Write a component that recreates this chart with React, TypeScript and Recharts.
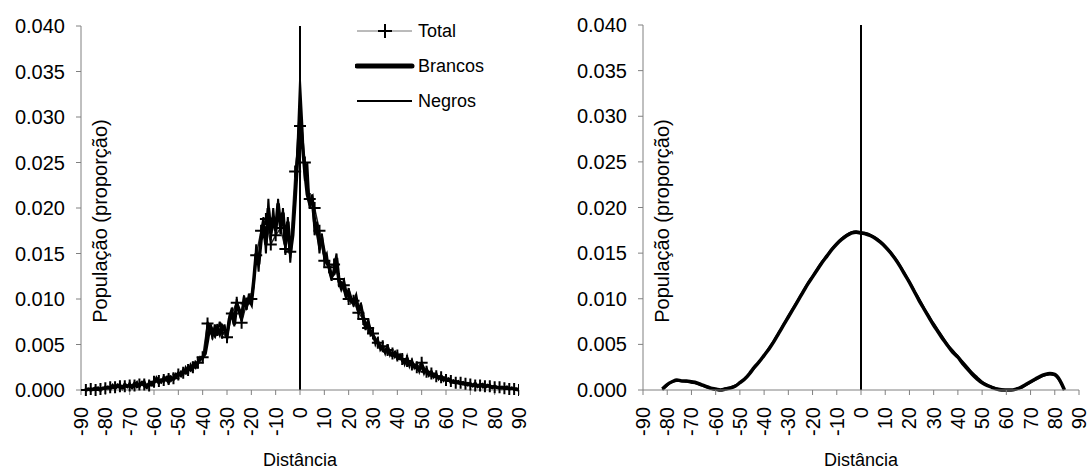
import React from 'react';
import { LineChart, Line, XAxis, YAxis, ReferenceLine, Legend, Label } from 'recharts';

const FONT = 'Liberation Sans, Arial, Helvetica, sans-serif';

const xTicks = [-90, -80, -70, -60, -50, -40, -30, -20, -10, 0, 10, 20, 30, 40, 50, 60, 70, 80, 90];
const yTicks = [0, 0.005, 0.01, 0.015, 0.02, 0.025, 0.03, 0.035, 0.04];
const legendOrder = ['total', 'brancos', 'negros'];

// left panel: observed distribution, one value per degree from -88 to 90 (units of 1/10000)
const rawStart = -88;
const rawBrancos = [
  0, 1, 0, 1, 2, 1, 0, 2,
  2, 3, 1, 4, 2, 5, 3, 2, 6, 4,
  5, 3, 7, 4, 6, 8, 5, 3, 7, 6,
  9, 12, 8, 11, 10, 13, 9, 14, 12, 15,
  18, 16, 21, 19, 24, 22, 27, 25, 30, 34,
  36, 40, 55, 72, 64, 60, 68, 62, 70, 66,
  60, 78, 85, 72, 95, 88, 80, 98, 92, 100,
  95, 120, 150, 138, 165, 180, 160, 200, 172, 190,
  175, 205, 180, 195, 160, 185, 150, 170, 210, 255,
  300, 270, 240, 215, 205, 210, 185, 175, 160, 165,
  150, 140, 135, 125, 128, 145, 120, 112, 118, 105,
  108, 100, 95, 102, 88, 92, 80, 70, 74, 64,
  60, 55, 52, 48, 45, 42, 46, 40, 38, 41,
  36, 38, 33, 30, 34, 28, 30, 26, 24, 22,
  28, 20, 22, 17, 19, 15, 16, 13, 15, 12,
  11, 12, 9, 10, 8, 9, 7, 8, 6, 7,
  6, 5, 7, 4, 5, 6, 3, 5, 4, 3,
  4, 3, 2, 3, 2, 3, 1, 2, 1, 1, 0,
];
const rawNegros = [
  0, 0, 2, 0, 1, 3, 0, 1,
  4, 1, 3, 6, 2, 4, 7, 1, 5, 3,
  8, 2, 6, 9, 3, 7, 10, 4, 6, 8,
  6, 14, 10, 8, 15, 11, 16, 10, 13, 18,
  15, 20, 17, 25, 20, 28, 23, 31, 28, 36,
  33, 45, 75, 66, 58, 72, 60, 75, 64, 72,
  56, 82, 90, 70, 100, 84, 76, 104, 88, 106,
  98, 115, 160, 130, 175, 190, 150, 210, 165, 200,
  170, 210, 172, 200, 150, 190, 140, 175, 210, 270,
  340, 290, 230, 250, 200, 215, 170, 185, 150, 172,
  145, 150, 130, 120, 135, 150, 115, 118, 110, 100,
  112, 96, 100, 98, 84, 96, 76, 66, 78, 60,
  62, 50, 56, 44, 48, 40, 50, 38, 42, 36,
  40, 34, 36, 28, 37, 26, 33, 24, 28, 20,
  30, 18, 24, 16, 21, 14, 18, 12, 16, 10,
  13, 10, 11, 8, 10, 7, 9, 6, 8, 5,
  8, 4, 6, 5, 7, 3, 5, 4, 6, 2,
  5, 2, 4, 1, 3, 2, 2, 1, 2, 0, 1,
];
// total: every 2 degrees from -88 to 90
const rawTotal = [
  0, 1, 0, 1,
  2, 3, 3, 4, 4,
  5, 5, 6, 6, 5,
  9, 10, 11, 12, 13,
  17, 19, 22, 25, 30,
  36, 73, 62, 66, 63,
  58, 84, 96, 74, 95,
  100, 148, 175, 188, 160,
  170, 178, 155, 152, 240,
  290, 250, 210, 200, 175,
  142, 135, 138, 122, 115,
  100, 98, 85, 78, 68,
  62, 52, 48, 44, 40,
  38, 34, 32, 28, 25,
  30, 20, 18, 15, 14,
  11, 10, 8, 8, 7,
  6, 5, 5, 4, 4,
  3, 3, 2, 1, 1,
  0,
];

// right panel: smoothed distribution, every 2 degrees from -82 to 84 (units of 1/10000)
const smoothStart = -82;
const smoothBrancos = [
  1, 6, 9, 11, 10, 10, 9, 8, 6, 4, 2, 1, 0, 1, 2, 4, 8, 12, 18, 25,
  31, 38, 45, 53, 62, 71, 80, 89, 98, 107, 116, 124, 132, 140, 147, 154, 160, 165, 169, 172,
  173, 172, 171, 169, 166, 162, 157, 151, 144, 136, 127, 118, 108, 98, 89, 80, 71, 63, 55, 48,
  41, 36, 29, 23, 17, 12, 8, 5, 3, 1, 0, 0, 0, 1, 3, 6, 9, 12, 15, 17,
  18, 17, 11, 0,
];
const smoothNegros = [
  0, 5, 9, 10, 10, 9, 8, 7, 5, 3, 1, 0, 0, 2, 3, 5, 8, 13, 18, 24,
  31, 38, 46, 54, 63, 72, 81, 90, 99, 108, 117, 125, 133, 141, 148, 155, 161, 166, 170, 173,
  174, 173, 172, 170, 167, 163, 158, 152, 145, 137, 128, 119, 109, 100, 90, 81, 73, 65, 57, 49,
  43, 37, 31, 25, 19, 14, 9, 6, 3, 2, 1, 0, 0, 1, 2, 5, 8, 11, 14, 16,
  17, 16, 10, 0,
];

const rawRows = rawBrancos.map((b, i) => {
  const x = rawStart + i;
  const t = i % 2 === 0 ? rawTotal[i / 2] : undefined;
  return {
    x,
    total: t === undefined ? null : t / 10000,
    brancos: b / 10000,
    negros: rawNegros[i] / 10000,
  };
});

const smoothRows = smoothBrancos.map((b, i) => ({
  x: smoothStart + i * 2,
  brancos: b / 10000,
  negros: smoothNegros[i] / 10000,
}));

const XTick = (props: any) => {
  const { x, y, payload } = props;
  return (
    <text
      x={x}
      y={y}
      transform={`rotate(-90 ${x} ${y})`}
      textAnchor="end"
      dominantBaseline="central"
      fontSize={20}
      fontFamily={FONT}
      fill="#000"
    >
      {payload.value}
    </text>
  );
};

const PlusDot = (props: any) => {
  const { cx, cy, index } = props;
  if (cx == null || cy == null || props.value == null) return <g key={`d${index}`} />;
  return (
    <path
      key={`d${index}`}
      d={`M${cx - 6},${cy}H${cx + 6}M${cx},${cy - 6}V${cy + 6}`}
      stroke="#000"
      strokeWidth={2}
      fill="none"
    />
  );
};

const renderLegend = (props: any) => {
  const payload = [...(props.payload || [])].sort(
    (a: any, b: any) => legendOrder.indexOf(a.dataKey) - legendOrder.indexOf(b.dataKey)
  );
  return (
    <svg width={160} height={110} style={{ display: 'block' }}>
      {payload.map((entry: any, i: number) => {
        const cy = 17 + i * 35;
        const key = entry.dataKey;
        const w = key === 'brancos' ? 5 : key === 'negros' ? 2 : 1;
        const col = key === 'total' ? '#777' : '#000';
        return (
          <g key={key}>
            <line x1={2} x2={57} y1={cy} y2={cy} stroke={col} strokeWidth={w} strokeLinecap={key === 'brancos' ? 'round' : 'butt'} />
            {key === 'total' && (
              <path d={`M${23},${cy}H${37}M${30},${cy - 7}V${cy + 7}`} stroke="#000" strokeWidth={2} />
            )}
            <text x={63} y={cy} dominantBaseline="central" fontSize={18} fontFamily={FONT} fill="#000">
              {entry.value}
            </text>
          </g>
        );
      })}
    </svg>
  );
};

const yLabel = (dx: number) => (props: any) => {
  const vb = props.viewBox;
  const x = vb.x + vb.width + dx;
  const y = 221;
  return (
    <text
      x={x}
      y={y}
      transform={`rotate(-90 ${x} ${y})`}
      textAnchor="middle"
      dominantBaseline="central"
      fontSize={20}
      fontFamily={FONT}
      fill="#000"
    >
      População (proporção)
    </text>
  );
};

const xLabel = (props: any) => {
  const vb = props.viewBox;
  return (
    <text
      x={vb.x + vb.width / 2}
      y={466}
      textAnchor="middle"
      fontSize={18}
      fontFamily={FONT}
      fill="#000"
    >
      Distância
    </text>
  );
};

const axisCommon = {
  stroke: '#808080',
};

function Panel({ rows, width, margin, smooth }: any) {
  return (
    <LineChart width={width} height={471} data={rows} margin={margin}>
      <XAxis
        dataKey="x"
        type="number"
        domain={[-90, 90]}
        ticks={xTicks}
        interval={0}
        allowDataOverflow
        height={50}
        tickSize={5}
        tickMargin={12}
        tick={<XTick />}
        {...axisCommon}
      >
        <Label content={xLabel} />
      </XAxis>
      <YAxis
        type="number"
        domain={[0, 0.04]}
        ticks={yTicks}
        interval={0}
        width={60}
        tickSize={5}
        tickMargin={11}
        tickFormatter={(v: number) => v.toFixed(3)}
        tick={{ fontSize: 20, fill: '#000', fontFamily: FONT }}
        {...axisCommon}
      >
        <Label content={yLabel(19)} />
      </YAxis>
      <ReferenceLine x={0} stroke="#000" strokeWidth={2} />
      {!smooth && (
        <Line
          dataKey="total"
          name="Total"
          type="linear"
          stroke="#222"
          strokeWidth={1.5}
          connectNulls
          dot={PlusDot}
          activeDot={false}
          isAnimationActive={false}
        />
      )}
      <Line
        dataKey="brancos"
        name="Brancos"
        type={smooth ? 'monotone' : 'linear'}
        stroke="#000"
        strokeWidth={3.5}
        dot={false}
        activeDot={false}
        isAnimationActive={false}
      />
      <Line
        dataKey="negros"
        name="Negros"
        type={smooth ? 'monotone' : 'linear'}
        stroke="#000"
        strokeWidth={2}
        dot={false}
        activeDot={false}
        isAnimationActive={false}
      />
      {!smooth && (
        <Legend
          layout="vertical"
          align="center"
          verticalAlign="middle"
          content={renderLegend}
          wrapperStyle={{ position: 'absolute', left: 355, top: 14, width: 160, height: 110 }}
        />
      )}
    </LineChart>
  );
}

export default function App() {
  return (
    <div style={{ position: 'absolute', left: 0, top: 0, width: 1091, height: 471, display: 'flex', background: '#fff' }}>
      <Panel rows={rawRows} width={545} margin={{ top: 26, right: 26, bottom: 31, left: 21 }} smooth={false} />
      <Panel rows={smoothRows} width={546} margin={{ top: 25, right: 12, bottom: 31, left: 38 }} smooth />
    </div>
  );
}
